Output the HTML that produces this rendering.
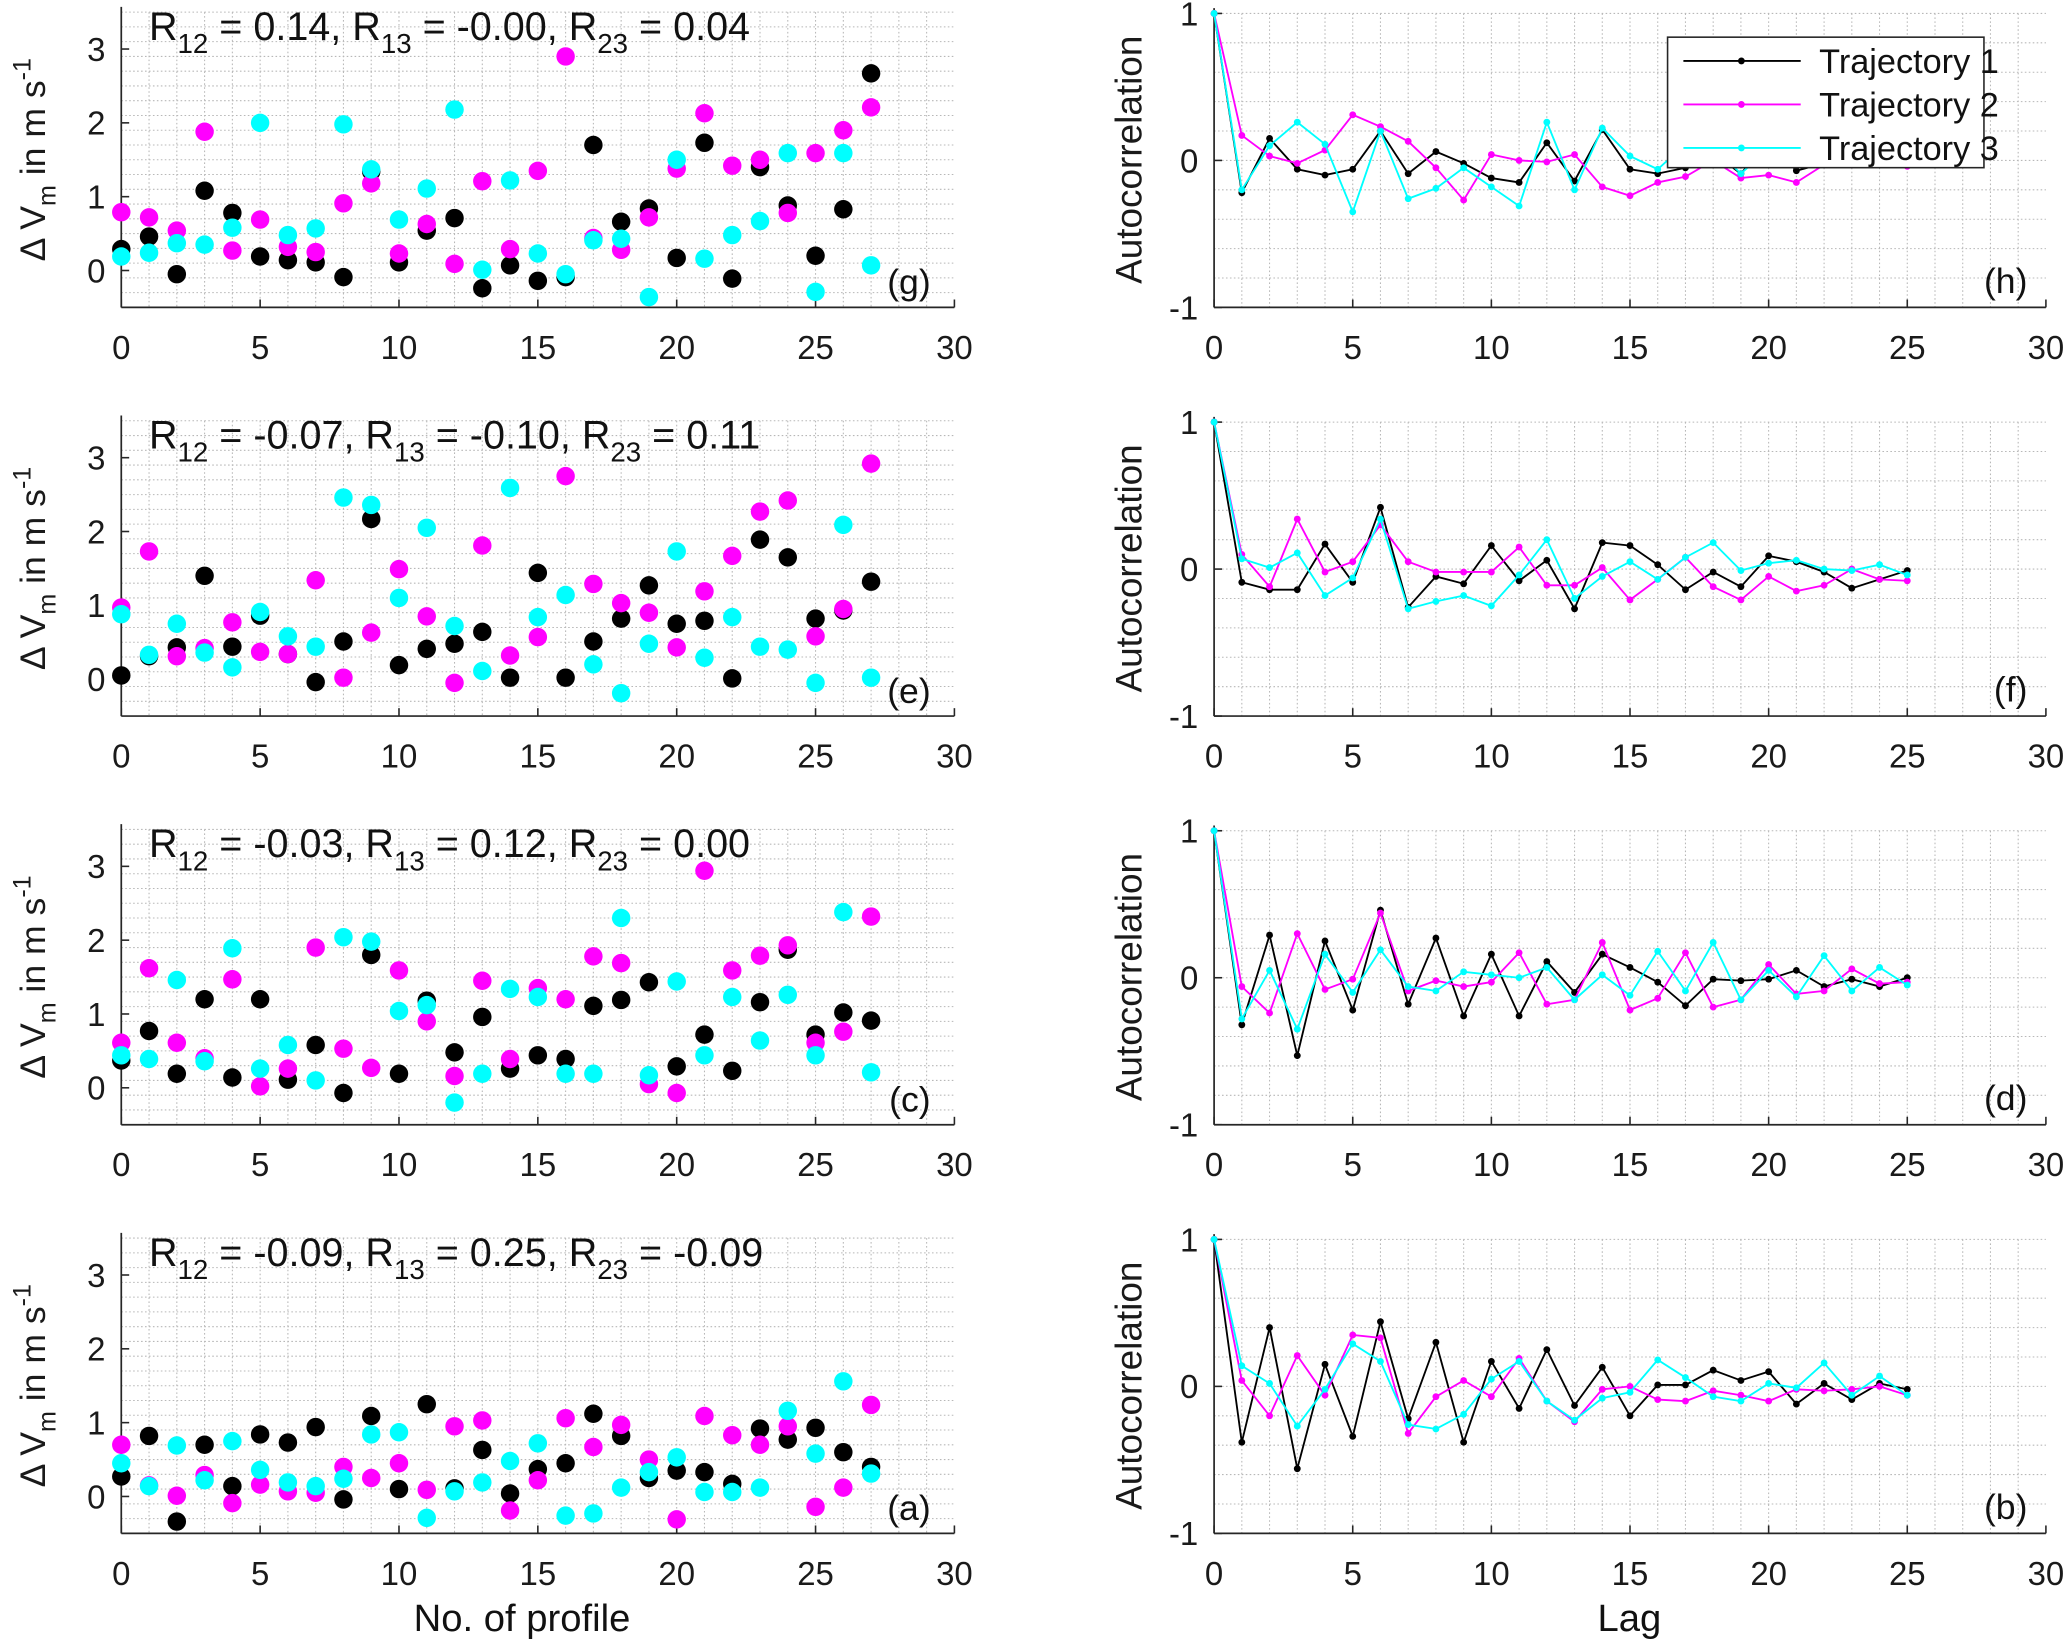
<!DOCTYPE html>
<html><head><meta charset="utf-8">
<style>
html,body{margin:0;padding:0;background:#fff;}
svg{display:block;font-family:"Liberation Sans",Arial,sans-serif;}
</style></head>
<body>
<svg id="fig" width="2067" height="1647" viewBox="0 0 1568 1249" xmlns="http://www.w3.org/2000/svg"></svg>
<script>
// ---------- data ----------
const profileIdx = [0,1,2,3,4,5,6,7,8,9,10,11,12,13,14,15,16,17,18,19,20,21,22,23,24,25,26,27];
const lags = [0,1,2,3,4,5,6,7,8,9,10,11,12,13,14,15,16,17,18,19,20,21,22,23,24,25];
const xTicks = [0,5,10,15,20,25,30];
const leftYTicks = [0,1,2,3];
const rightYTicks = [-1,0,1];
const panelLetters = ["(g)","(h)","(e)","(f)","(c)","(d)","(a)","(b)"];
const rTexts = [
  [["0.14"],["-0.00"],["0.04"]],
  [["-0.07"],["-0.10"],["0.11"]],
  [["-0.03"],["0.12"],["0.00"]],
  [["-0.09"],["0.25"],["-0.09"]]
];
// Row g
const g_t1 = [0.29,0.46,-0.05,1.08,0.78,0.19,0.14,0.11,-0.09,1.34,0.11,0.54,0.71,-0.24,0.07,-0.14,-0.09,1.70,0.66,0.84,0.17,1.73,-0.11,1.40,0.88,0.20,0.83,2.67];
const g_t2 = [0.79,0.72,0.54,1.88,0.27,0.69,0.32,0.25,0.91,1.18,0.23,0.63,0.09,1.21,0.29,1.35,2.90,0.44,0.28,0.72,1.38,2.13,1.42,1.50,0.78,1.59,1.90,2.21];
const g_t3 = [0.19,0.24,0.37,0.35,0.58,2.00,0.48,0.57,1.98,1.37,0.69,1.11,2.18,0.01,1.22,0.23,-0.05,0.41,0.43,-0.36,1.50,0.16,0.48,0.67,1.59,-0.29,1.59,0.07];
const h_t1 = [1,-0.22,0.15,-0.06,-0.10,-0.06,0.20,-0.09,0.06,-0.02,-0.12,-0.15,0.12,-0.14,0.21,-0.06,-0.09,-0.05,0.05,-0.09,0.13,-0.07,-0.02,-0.01,-0.01,0.00];
const h_t2 = [1,0.17,0.03,-0.02,0.07,0.31,0.23,0.13,-0.05,-0.27,0.04,0.00,-0.01,0.04,-0.18,-0.24,-0.15,-0.11,0.00,-0.12,-0.10,-0.15,-0.03,-0.03,0.05,-0.04];
const h_t3 = [1,-0.20,0.10,0.26,0.11,-0.35,0.20,-0.26,-0.19,-0.05,-0.18,-0.31,0.26,-0.20,0.22,0.03,-0.06,0.11,0.09,-0.09,0.08,-0.01,-0.01,-0.02,0.02,-0.03];
// Row e
const e_t1 = [0.05,0.31,0.43,1.40,0.44,0.86,0.34,-0.04,0.51,2.17,0.19,0.41,0.48,0.64,0.02,1.44,0.02,0.51,0.82,1.27,0.75,0.79,0.01,1.89,1.65,0.82,0.93,1.32];
const e_t2 = [0.97,1.73,0.31,0.42,0.77,0.37,0.34,1.34,0.02,0.63,1.49,0.85,-0.05,1.81,0.32,0.57,2.75,1.29,1.03,0.90,0.43,1.19,1.67,2.27,2.42,0.58,0.95,2.92];
const e_t3 = [0.88,0.33,0.75,0.36,0.16,0.91,0.58,0.44,2.46,2.36,1.10,2.05,0.72,0.11,2.59,0.84,1.14,0.20,-0.19,0.48,1.73,0.29,0.84,0.44,0.40,-0.05,2.09,0.02];
const f_t1 = [1,-0.09,-0.14,-0.14,0.17,-0.09,0.42,-0.26,-0.05,-0.10,0.16,-0.08,0.06,-0.27,0.18,0.16,0.03,-0.14,-0.02,-0.12,0.09,0.05,-0.02,-0.13,-0.07,-0.01];
const f_t2 = [1,0.10,-0.12,0.34,-0.02,0.05,0.30,0.05,-0.02,-0.02,-0.02,0.15,-0.11,-0.11,0.01,-0.21,-0.07,0.08,-0.12,-0.21,-0.05,-0.15,-0.11,0.00,-0.07,-0.08];
const f_t3 = [1,0.07,0.01,0.11,-0.18,-0.06,0.34,-0.27,-0.22,-0.18,-0.25,-0.04,0.20,-0.20,-0.05,0.05,-0.07,0.08,0.18,-0.01,0.04,0.06,0.00,-0.01,0.03,-0.04];
// Row c
const c_t1 = [0.37,0.77,0.19,1.20,0.14,1.20,0.11,0.58,-0.07,1.80,0.19,1.18,0.48,0.96,0.26,0.44,0.39,1.11,1.19,1.43,0.29,0.72,0.23,1.16,1.87,0.72,1.02,0.91];
const c_t2 = [0.61,1.62,0.61,0.40,1.47,0.02,0.26,1.90,0.53,0.27,1.59,0.90,0.16,1.45,0.39,1.35,1.20,1.78,1.69,0.05,-0.07,2.94,1.59,1.79,1.93,0.61,0.76,2.32];
const c_t3 = [0.44,0.39,1.46,0.36,1.89,0.26,0.58,0.10,2.04,1.98,1.04,1.12,-0.20,0.19,1.34,1.23,0.19,0.19,2.30,0.17,1.44,0.44,1.23,0.64,1.26,0.44,2.38,0.21];
const d_t1 = [1,-0.32,0.29,-0.53,0.25,-0.22,0.46,-0.18,0.27,-0.26,0.16,-0.26,0.11,-0.10,0.16,0.07,-0.03,-0.19,-0.01,-0.02,-0.01,0.05,-0.06,-0.01,-0.06,0.00];
const d_t2 = [1,-0.06,-0.24,0.30,-0.08,-0.01,0.44,-0.09,-0.02,-0.06,-0.03,0.17,-0.18,-0.15,0.24,-0.22,-0.14,0.17,-0.20,-0.15,0.09,-0.11,-0.09,0.06,-0.04,-0.03];
const d_t3 = [1,-0.28,0.05,-0.35,0.16,-0.10,0.19,-0.06,-0.09,0.04,0.02,0.00,0.07,-0.15,0.02,-0.12,0.18,-0.09,0.24,-0.15,0.05,-0.13,0.15,-0.09,0.07,-0.05];
// Row a
const a_t1 = [0.27,0.82,-0.34,0.70,0.14,0.84,0.73,0.94,-0.04,1.09,0.10,1.25,0.11,0.63,0.04,0.37,0.45,1.12,0.82,0.25,0.35,0.33,0.17,0.92,0.77,0.93,0.60,0.40];
const a_t2 = [0.70,0.15,0.01,0.29,-0.09,0.16,0.07,0.05,0.40,0.25,0.45,0.09,0.95,1.03,-0.19,0.22,1.06,0.67,0.97,0.50,-0.31,1.09,0.83,0.70,0.95,-0.14,0.12,1.24];
const a_t3 = [0.45,0.14,0.69,0.22,0.75,0.36,0.19,0.14,0.24,0.84,0.87,-0.29,0.07,0.19,0.48,0.72,-0.26,-0.23,0.12,0.33,0.53,0.06,0.06,0.12,1.16,0.58,1.56,0.31];
const b_t1 = [1,-0.38,0.40,-0.56,0.15,-0.34,0.44,-0.22,0.30,-0.38,0.17,-0.15,0.25,-0.13,0.13,-0.20,0.01,0.01,0.11,0.04,0.10,-0.12,0.02,-0.09,0.02,-0.02];
const b_t2 = [1,0.04,-0.20,0.21,-0.06,0.35,0.33,-0.32,-0.07,0.04,-0.07,0.19,-0.10,-0.24,-0.02,0.00,-0.09,-0.10,-0.03,-0.06,-0.10,-0.02,-0.03,-0.02,0.00,-0.06];
const b_t3 = [1,0.14,0.02,-0.27,-0.02,0.29,0.17,-0.26,-0.29,-0.19,0.05,0.17,-0.10,-0.23,-0.08,-0.04,0.18,0.06,-0.07,-0.10,0.02,-0.01,0.16,-0.06,0.07,-0.06];

const scatterRows = [[g_t1,g_t2,g_t3],[e_t1,e_t2,e_t3],[c_t1,c_t2,c_t3],[a_t1,a_t2,a_t3]];
const acfRows = [[h_t1,h_t2,h_t3],[f_t1,f_t2,f_t3],[d_t1,d_t2,d_t3],[b_t1,b_t2,b_t3]];
const seriesColors = ["#000000","#ff00ff","#00ffff"];
const legendLabels = ["Trajectory 1","Trajectory 2","Trajectory 3"];

// ---------- drawing ----------
const NS = "http://www.w3.org/2000/svg";
const svg = document.getElementById("fig");
function mk(tag, attrs, parent){
  const e = document.createElementNS(NS, tag);
  for (const k in attrs) e.setAttribute(k, attrs[k]);
  (parent||svg).appendChild(e);
  return e;
}
const ROW_DY = 310;
const L = {x0:92, x1:724, ymin:-0.5, ymax:3.5, top:9, bot:233};
const R = {x0:921, x1:1552, ymin:-1, ymax:1, top:10, bot:233};
function xS(p, v){ return p.x0 + (v-0)/(30-0)*(p.x1-p.x0); }
function yS(p, v, off){ return off + p.bot - (v-p.ymin)/(p.ymax-p.ymin)*(p.bot-p.top); }
const axisCol = "#262626";

function drawAxes(p, off, yStep, yTicks, g){
  for (let v=1; v<30; v++){
    const x = xS(p,v);
    mk("line",{x1:x,x2:x,y1:off+p.top,y2:off+p.bot,stroke:"#b8b8b8","stroke-width":0.8,"stroke-dasharray":"1.2,1.8"},g);
  }
  const n = Math.round((p.ymax-p.ymin)/yStep);
  for (let k=1;k<=n;k++){
    const y = yS(p, p.ymin + k*yStep, off);
    mk("line",{x1:p.x0,x2:p.x1,y1:y,y2:y,stroke:"#b8b8b8","stroke-width":0.8,"stroke-dasharray":"1.2,1.8"},g);
  }
  mk("line",{x1:p.x0,x2:p.x0,y1:off+p.top-4,y2:off+p.bot,stroke:axisCol,"stroke-width":1.3},g);
  mk("line",{x1:p.x0,x2:p.x1,y1:off+p.bot,y2:off+p.bot,stroke:axisCol,"stroke-width":1.3},g);
  xTicks.forEach(v=>{
    const x = xS(p,v);
    mk("line",{x1:x,x2:x,y1:off+p.bot,y2:off+p.bot-6,stroke:axisCol,"stroke-width":1.2},g);
    const t = mk("text",{x:x,y:off+p.bot+39,"font-size":25,"text-anchor":"middle",fill:"#1a1a1a"},g);
    
    
    t.textContent = v;
  });
  yTicks.forEach(v=>{
    const y = yS(p,v,off);
    mk("line",{x1:p.x0,x2:p.x0+6,y1:y,y2:y,stroke:axisCol,"stroke-width":1.2},g);
    const t = mk("text",{x:p.x0-12,y:y+9,"font-size":25,"text-anchor":"end",fill:"#1a1a1a"},g);
    
    
    t.textContent = v;
  });
}

for (let r=0;r<4;r++){
  const off = r*ROW_DY;
  const gl = mk("g",{});
  
  
  drawAxes(L, off, 0.2, leftYTicks, gl);
  const yl = mk("text",{transform:`translate(34,${off+121}) rotate(-90)`,"font-size":27,"text-anchor":"middle",fill:"#1a1a1a"},gl);
  
  
  yl.innerHTML = 'Δ V<tspan font-size="19" dy="8">m</tspan><tspan dy="-8"> in m s</tspan><tspan font-size="19" dy="-11">-1</tspan>';
  const rt = mk("text",{x:113,y:off+30,"font-size":30,fill:"#111"},gl);
  
  
  const rv = rTexts[r];
  rt.innerHTML = `R<tspan font-size="21" dy="10">12</tspan><tspan dy="-10"> = ${rv[0][0]}, R</tspan><tspan font-size="21" dy="10">13</tspan><tspan dy="-10"> = ${rv[1][0]}, R</tspan><tspan font-size="21" dy="10">23</tspan><tspan dy="-10"> = ${rv[2][0]}</tspan>`;
  scatterRows[r].forEach((vals, s)=>{
    vals.forEach((v,i)=>{
      const c = mk("circle",{cx:xS(L,profileIdx[i]),cy:yS(L,v,off),r:7,fill:seriesColors[s]},gl);
      
      
    });
  });
  const pl = mk("text",{x:706,y:off+223,"font-size":27,"text-anchor":"end",fill:"#111"},gl);
  
  
  pl.textContent = panelLetters[2*r];

  const gr = mk("g",{});
  
  
  drawAxes(R, off, 0.2, rightYTicks, gr);
  const yr = mk("text",{transform:`translate(866,${off+121}) rotate(-90)`,"font-size":28,"text-anchor":"middle",fill:"#1a1a1a"},gr);
  
  
  yr.textContent = "Autocorrelation";
  acfRows[r].forEach((vals,s)=>{
    const pts = vals.map((v,i)=>xS(R,lags[i]).toFixed(1)+","+yS(R,v,off).toFixed(1)).join(" ");
    const ln = mk("polyline",{points:pts,fill:"none",stroke:seriesColors[s],"stroke-width":1.4},gr);
    
    
    vals.forEach((v,i)=>{
      const d = mk("circle",{cx:xS(R,lags[i]),cy:yS(R,v,off),r:2.6,fill:seriesColors[s]},gr);
      
      
    });
  });
  const pr = mk("text",{x:1538,y:off+222,"font-size":27,"text-anchor":"end",fill:"#111"},gr);
  
  
  pr.textContent = panelLetters[2*r+1];
}

const lg = mk("g",{});


mk("rect",{x:1265,y:28,width:240,height:99,fill:"#fff",stroke:"#262626","stroke-width":1.2},lg);
legendLabels.forEach((lab,s)=>{
  const y = 46 + s*33;
  const e = mk("g",{},lg);
  
  
  mk("line",{x1:1277,x2:1366,y1:y,y2:y,stroke:seriesColors[s],"stroke-width":1.4},e);
  mk("circle",{cx:1321,cy:y,r:2.6,fill:seriesColors[s]},e);
  const t = mk("text",{x:1380,y:y+9,"font-size":26,fill:"#111"},e);
  t.textContent = lab;
});

const xt1 = mk("text",{x:396,y:1237,"font-size":29,"text-anchor":"middle",fill:"#111"});


xt1.textContent = "No. of profile";
const xt2 = mk("text",{x:1236,y:1237,"font-size":29,"text-anchor":"middle",fill:"#111"});


xt2.textContent = "Lag";
</script>
</body></html>
